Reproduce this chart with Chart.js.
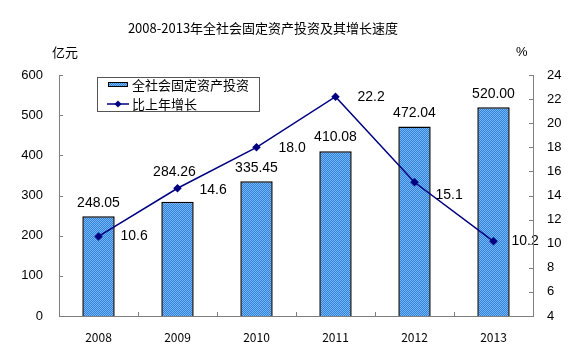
<!DOCTYPE html>
<html>
<head>
<meta charset="utf-8">
<script src="https://cdn.jsdelivr.net/npm/chart.js@4/dist/chart.umd.min.js"></script>
<style>
html,body{margin:0;padding:0;background:#fff;}
#wrap{width:576px;height:357px;position:relative;}
</style>
</head>
<body>
<div id="wrap"><canvas id="c" width="576" height="357"></canvas></div>
<script>
const chartTitle = '2008-2013年全社会固定资产投资及其增长速度';
const categories = ['2008', '2009', '2010', '2011', '2012', '2013'];
const investment = [248.05, 284.26, 335.45, 410.08, 472.04, 520.00];
const growth = [10.6, 14.6, 18.0, 22.2, 15.1, 10.2];
const seriesNames = ['全社会固定资产投资', '比上年增长'];
const leftUnit = '亿元';
const rightUnit = '%';

const CJK = '"Noto Sans CJK SC", "Liberation Sans", sans-serif';
const NUM = '"Liberation Sans", Arial, sans-serif';

function makePattern() {
  const p = document.createElement('canvas');
  p.width = 2; p.height = 2;
  const g = p.getContext('2d');
  g.fillStyle = '#2f80da'; g.fillRect(0, 0, 2, 2);
  g.fillStyle = '#78b8f4'; g.fillRect(0, 0, 1, 1); g.fillRect(1, 1, 1, 1);
  return document.getElementById('c').getContext('2d').createPattern(p, 'repeat');
}
const barFill = makePattern();

const barLabelOffsets = [[0, -13], [-3, -30], [0, -13], [0, -14], [0, -13], [0, -13]];
const lineLabelOffsets = [[22, 0], [22, 2], [22, 1], [22, 0], [21, 13], [18, 0]];

const drawPlugin = {
  id: 'drawExtras',
  afterDatasetsDraw(chart) {
    const ctx = chart.ctx;
    ctx.save();
    const barMeta = chart.getDatasetMeta(0);
    ctx.font = '14px ' + NUM;
    ctx.fillStyle = '#000';
    ctx.textAlign = 'center';
    ctx.textBaseline = 'middle';
    barMeta.data.forEach((el, i) => {
      const o = barLabelOffsets[i];
      ctx.fillText(investment[i].toFixed(2), el.x + o[0], el.y + o[1]);
    });
    const lineMeta = chart.getDatasetMeta(1);
    ctx.textAlign = 'left';
    lineMeta.data.forEach((el, i) => {
      const o = lineLabelOffsets[i];
      ctx.fillText(growth[i].toFixed(1), el.x + o[0], el.y + o[1]);
    });
    ctx.restore();
  },
  afterDraw(chart) {
    const ctx = chart.ctx;
    const a = chart.chartArea;
    ctx.save();
    ctx.strokeStyle = '#7f7f7f';
    ctx.lineWidth = 1;
    ctx.beginPath();
    ctx.moveTo(a.left + 0.5, a.top); ctx.lineTo(a.left + 0.5, a.bottom + 0.5);
    ctx.lineTo(a.right + 0.5, a.bottom + 0.5); ctx.lineTo(a.right + 0.5, a.top);
    ctx.stroke();
    const yl = chart.scales.y, yr = chart.scales.y2, x = chart.scales.x;
    ctx.beginPath();
    yl.ticks.forEach(t => {
      const py = Math.round(yl.getPixelForValue(t.value)) + 0.5;
      ctx.moveTo(a.left, py); ctx.lineTo(a.left + 4, py);
    });
    yr.ticks.forEach(t => {
      const py = Math.round(yr.getPixelForValue(t.value)) + 0.5;
      ctx.moveTo(a.right + 1, py); ctx.lineTo(a.right - 4, py);
    });
    for (let i = 1; i < categories.length; i++) {
      const px = Math.round((x.getPixelForValue(i - 1) + x.getPixelForValue(i)) / 2) + 0.5;
      ctx.moveTo(px, a.bottom); ctx.lineTo(px, a.bottom - 4);
    }
    ctx.stroke();
    ctx.fillStyle = '#000';
    ctx.font = '13px ' + CJK;
    ctx.textAlign = 'center';
    ctx.textBaseline = 'middle';
    ctx.fillText(chartTitle, 263, 28);
    ctx.textAlign = 'left';
    ctx.fillText(leftUnit, 52, 52);
    ctx.font = '13px ' + NUM;
    ctx.fillText(rightUnit, 516, 52);
    ctx.strokeStyle = '#555';
    ctx.lineWidth = 1;
    ctx.strokeRect(97.5, 77.5, 162, 34);
    ctx.fillStyle = barFill;
    ctx.fillRect(108, 82, 20, 5);
    ctx.strokeStyle = '#000';
    ctx.strokeRect(108.5, 82.5, 19, 4);
    ctx.strokeStyle = '#000080';
    ctx.lineWidth = 1.5;
    ctx.beginPath(); ctx.moveTo(107, 104); ctx.lineTo(129, 104); ctx.stroke();
    ctx.fillStyle = '#000080';
    ctx.beginPath();
    ctx.moveTo(118, 100.5); ctx.lineTo(121.5, 104); ctx.lineTo(118, 107.5); ctx.lineTo(114.5, 104);
    ctx.closePath(); ctx.fill();
    ctx.fillStyle = '#000';
    ctx.font = '13px ' + CJK;
    ctx.textBaseline = 'middle';
    ctx.fillText(seriesNames[0], 132, 85);
    ctx.fillText(seriesNames[1], 132, 104);
    ctx.restore();
  }
};

new Chart(document.getElementById('c'), {
  data: {
    labels: categories,
    datasets: [
      {
        type: 'bar',
        label: seriesNames[0],
        data: investment,
        yAxisID: 'y',
        backgroundColor: barFill,
        borderColor: '#000',
        borderWidth: 1.5,
        categoryPercentage: 1,
        barPercentage: 0.41,
        order: 2
      },
      {
        type: 'line',
        label: seriesNames[1],
        data: growth,
        yAxisID: 'y2',
        borderColor: '#000080',
        backgroundColor: '#000080',
        borderWidth: 1.5,
        pointStyle: 'rectRot',
        pointRadius: 3.2,
        pointBackgroundColor: '#000080',
        pointBorderColor: '#000080',
        tension: 0,
        order: 1
      }
    ]
  },
  options: {
    responsive: false,
    animation: false,
    events: [],
    layout: { padding: { top: 75, left: 0, right: 0, bottom: 0 } },
    plugins: { legend: { display: false }, title: { display: false }, tooltip: { enabled: false } },
    scales: {
      x: {
        grid: { display: false, drawTicks: false },
        border: { display: false },
        ticks: { font: { family: CJK, size: 12 }, color: '#000', padding: 14, maxRotation: 0 },
        afterFit(s) { s.height = 41; }
      },
      y: {
        position: 'left',
        min: 0, max: 600,
        grid: { display: false, drawTicks: false },
        border: { display: false },
        ticks: { stepSize: 100, font: { family: NUM, size: 13 }, color: '#000', padding: 16 },
        afterFit(s) { s.width = 59; }
      },
      y2: {
        position: 'right',
        min: 4, max: 24,
        grid: { display: false, drawTicks: false },
        border: { display: false },
        ticks: { stepSize: 2, font: { family: NUM, size: 13 }, color: '#000', padding: 14 },
        afterFit(s) { s.width = 43; }
      }
    }
  },
  plugins: [drawPlugin]
});
</script>
</body>
</html>
